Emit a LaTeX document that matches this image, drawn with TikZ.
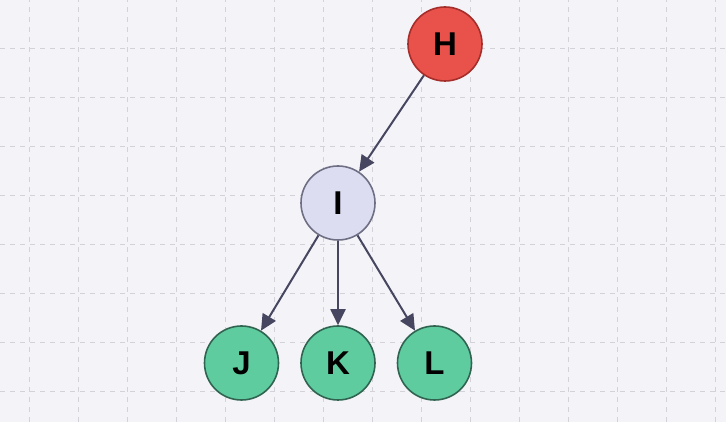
\documentclass[tikz,border=0pt]{standalone}
\usepackage{fontspec}
\setmainfont{Liberation Sans}
\usetikzlibrary{arrows.meta}

\definecolor{bgpaper}{RGB}{244,244,248}
\definecolor{gridgray}{RGB}{210,210,216}
\definecolor{edgegray}{RGB}{70,70,96}
\definecolor{hred}{RGB}{232,82,75}
\definecolor{hredline}{RGB}{165,45,42}
\definecolor{ilav}{RGB}{220,221,240}
\definecolor{ilavline}{RGB}{110,110,132}
\definecolor{leafgreen}{RGB}{95,204,160}
\definecolor{leafline}{RGB}{48,100,80}

\tikzset{
  vertex/.style={circle, minimum size=74pt, inner sep=0pt, line width=1.6pt,
    font=\fontsize{33}{33}\selectfont\bfseries},
  rootv/.style={vertex, fill=hred, draw=hredline},
  midv/.style={vertex, fill=ilav, draw=ilavline},
  leafv/.style={vertex, fill=leafgreen, draw=leafline},
  arrowedge/.style={draw=edgegray, line width=2pt,
    -{Triangle[length=16pt, width=15pt]}}
}

\begin{document}
\begin{tikzpicture}[x=1pt, y=1pt, sibling distance=96.5pt, level distance=160pt,
  edge from parent/.style={arrowedge}]
  \fill[bgpaper] (0,0) rectangle (726,422);
  \useasboundingbox (0,0) rectangle (726,422);
  \foreach \gx in {0,...,14}
    \draw[gridgray, line width=1pt, dash pattern=on 5pt off 5pt] (29+49*\gx,0) -- (29+49*\gx,422);
  \foreach \gy in {0,...,8}
    \draw[gridgray, line width=1pt, dash pattern=on 5pt off 5pt] (0,422-49*\gy) -- (726,422-49*\gy);
  \node[rootv] (h) at (445,378) {H};
  \node[midv] (i) at (338,219) {I}
    child { node[leafv] (j) {J} }
    child { node[leafv] (k) {K} }
    child { node[leafv] (l) {L} };
  \draw[arrowedge] (h) -- (i);
\end{tikzpicture}
\end{document}
